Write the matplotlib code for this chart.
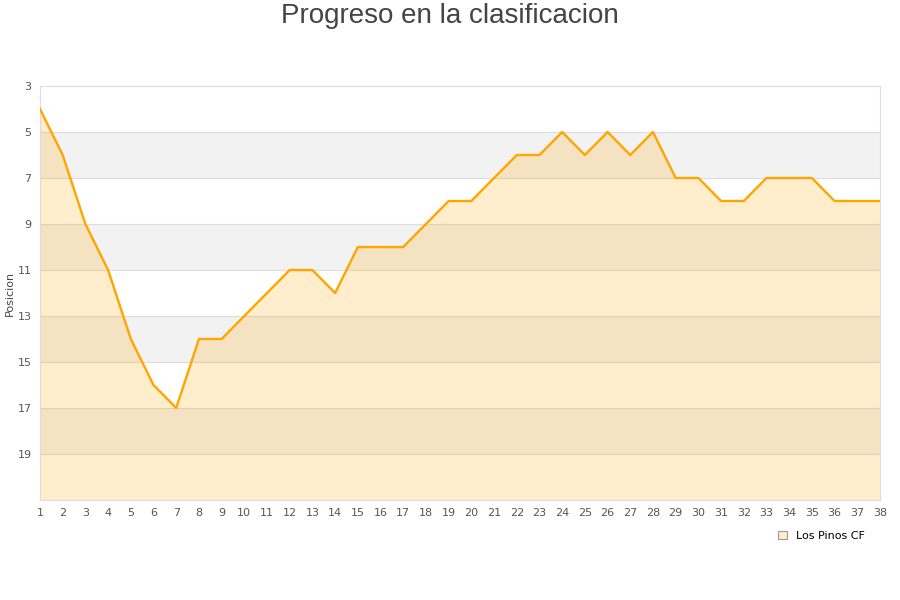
import matplotlib.pyplot as plt
from matplotlib.patches import Patch

# jornadas y posiciones
jornadas = list(range(1, 39))
posicion = [4, 6, 9, 11, 14, 16, 17, 14, 14, 13, 12, 11, 11, 12, 10, 10, 10, 9, 8, 8,
            7, 6, 6, 5, 6, 5, 6, 5, 7, 7, 8, 8, 7, 7, 7, 8, 8, 8]
equipo = "Los Pinos CF"
y_ticks = [3, 5, 7, 9, 11, 13, 15, 17, 19]
y_min, y_max = 3, 21

fig = plt.figure(figsize=(9, 6), dpi=100)
ax = fig.add_axes([40/900, 100/600, 840/900, 414/600])

# bandas grises alternas
for y0 in range(5, y_max, 4):
    ax.axhspan(y0, y0 + 2, color="#f2f2f2", zorder=0, lw=0)
for t in y_ticks[1:]:
    ax.axhline(t, color="#dddddd", lw=0.8, zorder=1)

ax.fill_between(jornadas, posicion, y_max, color="#ffa500", alpha=0.2, lw=0, zorder=2)
ax.plot(jornadas, posicion, color="#ffa500", lw=1.7, zorder=3)

ax.set_xlim(1, 38)
ax.set_ylim(y_max, y_min)
ax.set_xticks(jornadas)
ax.set_yticks(y_ticks)
ax.tick_params(length=0, labelsize=8, colors="#555555", pad=6)
for s in ax.spines.values():
    s.set_color("#dddddd")
ax.set_ylabel("Posicion", fontsize=8, color="#444444", labelpad=2)

fig.text(0.5, 1 - 16/600, "Progreso en la clasificacion", ha="center", va="center",
         fontsize=20, color="#444444", family="Liberation Sans")

h = Patch(facecolor="#ffedcc", edgecolor="#999999", lw=0.8)
fig.legend([h], [equipo], loc="center left", bbox_to_anchor=(768/900, 1 - 536/600),
           frameon=False, fontsize=8, handlelength=0.8, handleheight=0.8, handletextpad=0.8)

fig.savefig("out.png", dpi=100)
